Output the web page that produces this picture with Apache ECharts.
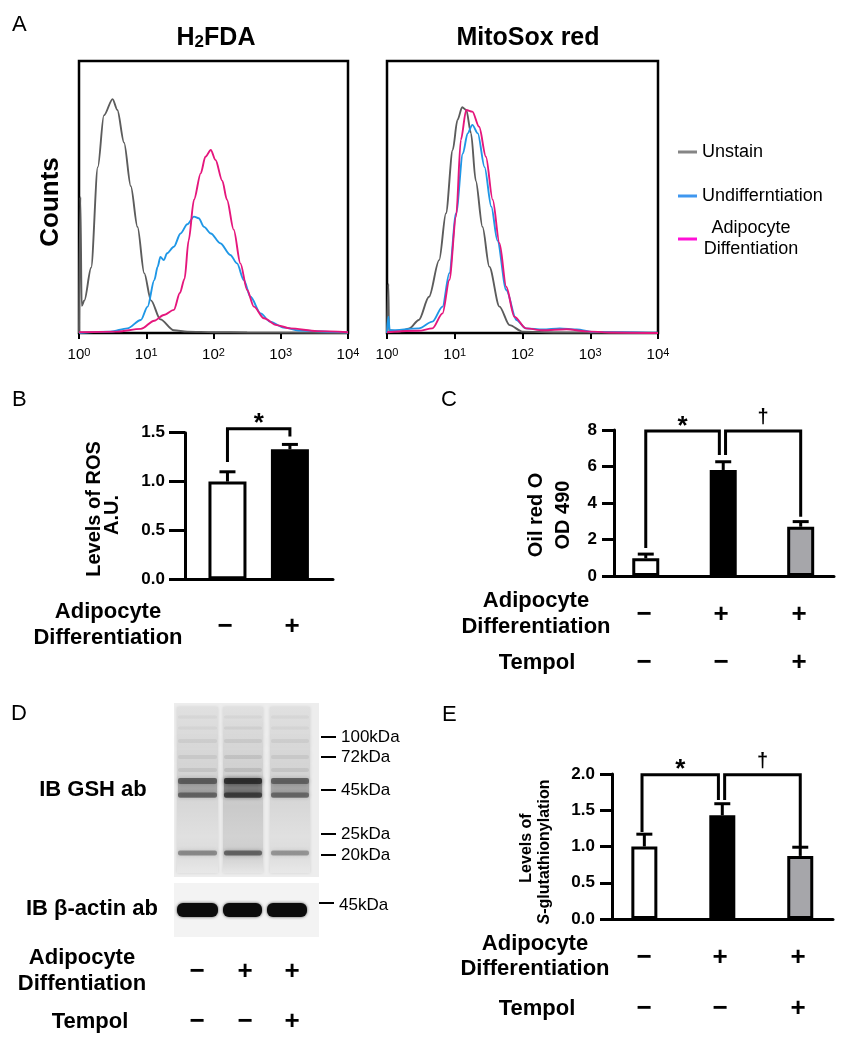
<!DOCTYPE html>
<html><head><meta charset="utf-8">
<script src="https://cdn.jsdelivr.net/npm/echarts@6/dist/echarts.min.js"></script>
<style>html,body{margin:0;padding:0;background:#fff}#chart{width:848px;height:1050px}</style>
</head><body><div id="chart"></div>
<script>
// ================= DATA =================
// Panel A – flow cytometry histograms: [log10 fluorescence, relative counts]
const histExponents = [0, 1, 2, 3, 4];
const seriesNames = ['Unstain', 'Undifferntiation', 'Adipocyte Diffentiation'];
const h2fdaUnstain = [[0,0],[0.02,50],[0.04,10],[0.08,12],[0.18,24],[0.28,61],[0.37,80],[0.5,86],[0.57,82],[0.67,70],[0.77,54],[0.87,39],[0.97,22],[1.07,12],[1.21,5],[1.41,1],[1.61,0.5],[2.0,0.3],[2.5,0.2],[4,0]];
const h2fdaUndiff = [[0,0],[0.47,0.5],[0.72,1.7],[0.92,4.8],[1.02,9.7],[1.12,19.5],[1.17,24.4],[1.21,28],[1.26,26.8],[1.31,29.3],[1.41,31.7],[1.51,36.6],[1.61,40],[1.71,42.8],[1.78,42.2],[1.86,39],[1.96,36.6],[2.10,33],[2.25,28.7],[2.35,25.6],[2.45,19.5],[2.55,13.3],[2.70,7.2],[2.84,4.2],[3.04,2.0],[3.29,0.9],[3.78,0.4],[4,0.2]];
const h2fdaAdipo = [[0,0.3],[0.57,0.5],[0.92,1.5],[1.12,4.5],[1.26,6.6],[1.41,8.5],[1.5,14.7],[1.57,20],[1.63,34],[1.71,49],[1.81,58.7],[1.88,64.8],[1.96,67.3],[2.03,63.6],[2.13,56],[2.20,49],[2.30,38],[2.40,25.6],[2.50,15.8],[2.60,9.7],[2.75,5.4],[2.94,2.9],[3.14,1.7],[3.54,0.7],[4,0.3]];
const mitoUnstain = [[0,0],[0.02,18],[0.03,1],[0.18,0.5],[0.33,1.7],[0.47,4.8],[0.62,13.3],[0.77,26.8],[0.87,44],[0.97,67.3],[1.04,78.3],[1.11,83],[1.17,82],[1.24,73.4],[1.31,56],[1.41,39],[1.51,24.4],[1.66,9.7],[1.81,2.9],[2.0,0.5],[2.5,0.2],[4,0]];
const mitoUndiff = [[0,0],[0.02,6],[0.04,1],[0.47,1.7],[0.67,4.2],[0.82,9.7],[0.92,22],[1.02,44],[1.12,66],[1.19,73.4],[1.26,76.5],[1.34,73.4],[1.44,61],[1.54,46.4],[1.63,34],[1.76,15.8],[1.91,4.8],[2.05,1.7],[2.30,1.3],[2.55,1.7],[2.80,1.3],[3.04,0.4],[4,0.1]];
const mitoAdipo = [[0,0.3],[0.47,0.8],[0.67,1.7],[0.82,7.2],[0.92,19.5],[1.02,42.8],[1.09,71],[1.17,82],[1.26,81.4],[1.36,75.8],[1.46,64.8],[1.56,49],[1.66,33],[1.76,17],[1.88,6],[2.05,1.7],[2.30,1.0],[2.65,1.4],[2.94,0.6],[3.29,0.2],[4,0]];

// Panel B – ROS levels (A.U.)
const rosMean = [1.0, 1.33];
const rosSem = [0.10, 0.05];
// Panel C – Oil red O OD 490
const oilMean = [0.97, 5.81, 2.70];
const oilSem = [0.23, 0.45, 0.28];
// Panel E – S-glutathionylation
const sgMean = [1.0, 1.43, 0.87];
const sgSem = [0.17, 0.16, 0.12];

// condition rows
const adipoB = ['−', '+'];
const adipo3 = ['−', '+', '+'];
const tempol3 = ['−', '−', '+'];

// significance brackets: [xLeft, yLeftEnd, xRight, yRightEnd, yTop]
const sigB = [[1, 1.20, 2, 1.46, 1.54]];
const sigBSym = ['*'];
const sigC = [[1, 1.53, 1.95, 6.63, 7.95], [2.03, 6.63, 3, 3.25, 7.95]];
const sigCSym = ['*', '†'];
const sigE = [[0.97, 1.20, 1.95, 1.64, 1.99], [2.03, 1.64, 3, 1.0, 1.99]];
const sigESym = ['*', '†'];

// Panel D – molecular weight markers
const gshMarkers = ['100kDa', '72kDa', '45kDa', '25kDa', '20kDa'];
const actinMarkers = ['45kDa'];

// ================= CHART =================
const FF = '"Liberation Sans", Arial, Helvetica, sans-serif';
const chart = echarts.init(document.getElementById('chart'), null, {renderer: 'canvas'});

const histColors = ['#5c5c5c', '#1f97e6', '#e5167c'];
const legendColors = ['#858585', '#3f97ef', '#ff10d6'];
const barFill = ['#ffffff', '#000000', '#a6a6aa'];

function histX(gi) {
  return {
    gridIndex: gi, type: 'value', min: 0, max: 4, interval: 1,
    axisLine: {show: false},
    axisTick: {show: true, length: 6, lineStyle: {color: '#000', width: 2}},
    splitLine: {show: false},
    axisLabel: {
      margin: 14, color: '#000',
      formatter: v => '{b|10}{s|' + histExponents[v] + '}',
      rich: {
        b: {fontSize: 15, fontFamily: FF, color: '#000'},
        s: {fontSize: 11, fontFamily: FF, color: '#000', verticalAlign: 'top'}
      }
    }
  };
}
function barX(gi, min, max) {
  return {
    gridIndex: gi, type: 'value', min, max,
    axisLine: {show: true, onZero: true, lineStyle: {color: '#000', width: 3}},
    axisTick: {show: false}, axisLabel: {show: false}, splitLine: {show: false}
  };
}
function barY(gi, max, interval, tickLen, margin, fmt) {
  return {
    gridIndex: gi, type: 'value', min: 0, max, interval,
    axisLine: {show: true, lineStyle: {color: '#000', width: 3}},
    axisTick: {show: true, length: tickLen, lineStyle: {color: '#000', width: 3}},
    splitLine: {show: false},
    axisLabel: {margin, color: '#000', fontSize: 17, fontWeight: 'bold', fontFamily: FF, formatter: fmt}
  };
}
function histSeries(gi, dataArr) {
  return dataArr.map((d, i) => ({
    type: 'line', name: seriesNames[i], xAxisIndex: gi, yAxisIndex: gi,
    data: d, showSymbol: false, smooth: 0.3, smoothMonotone: 'x',
    lineStyle: {color: histColors[i], width: 1.9}, itemStyle: {color: histColors[i]},
    z: 2 + i, silent: true
  }));
}
function barSeries(gi, means, width) {
  return {
    type: 'bar', xAxisIndex: gi, yAxisIndex: gi, barWidth: width,
    data: means.map((m, i) => ({value: [i + 1, m], itemStyle: {color: barFill[i]}})),
    itemStyle: {borderColor: '#000', borderWidth: 3}, z: 2, silent: true
  };
}
function errSeries(gi, means, sems) {
  return {
    type: 'custom', xAxisIndex: gi, yAxisIndex: gi, z: 4, silent: true, clip: false,
    data: means.map((m, i) => [i + 1, m, m + sems[i]]),
    renderItem: (params, api) => {
      const b = api.coord([api.value(0), api.value(1)]);
      const t = api.coord([api.value(0), api.value(2)]);
      return {type: 'group', children: [
        {type: 'line', shape: {x1: b[0], y1: b[1], x2: t[0], y2: t[1]}, style: {stroke: '#000', lineWidth: 3}},
        {type: 'line', shape: {x1: t[0] - 8, y1: t[1], x2: t[0] + 8, y2: t[1]}, style: {stroke: '#000', lineWidth: 3}}
      ]};
    }
  };
}
function sigSeries(gi, data, syms, dy) {
  return {
    type: 'custom', xAxisIndex: gi, yAxisIndex: gi, z: 5, silent: true, clip: false,
    data: data,
    renderItem: (params, api) => {
      const p1 = api.coord([api.value(0), api.value(1)]);
      const p2 = api.coord([api.value(0), api.value(4)]);
      const p3 = api.coord([api.value(2), api.value(4)]);
      const p4 = api.coord([api.value(2), api.value(3)]);
      const s = syms[params.dataIndex];
      const star = s === '*';
      return {type: 'group', children: [
        {type: 'polyline', shape: {points: [p1, p2, p3, p4]}, style: {stroke: '#000', lineWidth: 3, fill: null, lineJoin: 'miter'}},
        {type: 'text', x: (p2[0] + p3[0]) / 2, y: p2[1] + (star ? dy[0] : dy[1]),
         style: {text: s, font: 'bold ' + (star ? 26 : 20) + 'px ' + FF, fill: '#000', align: 'center', verticalAlign: 'middle'}}
      ]};
    }
  };
}

// ---------- graphic helpers ----------
function T(text, x, y, size, weight, extra) {
  return Object.assign({type: 'text', x, y, silent: true,
    style: {text, font: (weight || 'bold') + ' ' + size + 'px ' + FF, fill: '#000', align: 'center', verticalAlign: 'middle'}}, extra || {});
}
function TL(text, x, y, size, weight) {
  return {type: 'text', x, y, silent: true,
    style: {text, font: weight + ' ' + size + 'px ' + FF, fill: '#000', align: 'left', verticalAlign: 'middle'}};
}
function signs(arr, xs, y) {
  return arr.map((s, i) => T(s, xs[i], y, 26, 'bold'));
}

function blotElements() {
  const els = [];
  // upper membrane (GSH)
  els.push({type: 'rect', shape: {x: 174, y: 703, width: 145, height: 174}, style: {fill: '#ededed'}});
  const lanes = [[177, 41], [223, 40], [270, 40]];
  lanes.forEach((l, i) => {
    const stops = i === 1
      ? [{offset: 0, color: '#e0e0e0'}, {offset: 0.25, color: '#d6d6d6'}, {offset: 0.45, color: '#cfcfcf'}, {offset: 0.6, color: '#cacaca'}, {offset: 0.78, color: '#d2d2d2'}, {offset: 0.88, color: '#cdcdcd'}, {offset: 1, color: '#e6e6e6'}]
      : [{offset: 0, color: '#e0e0e0'}, {offset: 0.25, color: '#d8d8d8'}, {offset: 0.45, color: '#d3d3d3'}, {offset: 0.6, color: '#d8d8d8'}, {offset: 0.78, color: '#e0e0e0'}, {offset: 0.88, color: '#dcdcdc'}, {offset: 1, color: '#e8e8e8'}];
    els.push({type: 'rect', shape: {x: l[0], y: 707, width: l[1], height: 166},
      style: {fill: {type: 'linear', x: 0, y: 0, x2: 0, y2: 1, colorStops: stops}, shadowBlur: 3, shadowColor: 'rgba(0,0,0,0.12)'}});
  });
  const bands = [
    [717, 3, [.04, .04, .04]], [728, 3, [.04, .05, .04]], [741, 4, [.06, .07, .06]],
    [757, 4, [.07, .09, .07]], [770, 4, [.08, .1, .08]],
    [788, 20, [.22, .38, .22]],
    [781, 6, [.45, .7, .42]], [795, 5, [.42, .58, .4]],
    [853, 5, [.38, .52, .33]]
  ];
  bands.forEach(b => {
    lanes.forEach((l, i) => {
      const a = b[2][i];
      els.push({type: 'rect', shape: {x: l[0] + 1, y: b[0] - b[1] / 2, width: l[1] - 2, height: b[1], r: 2},
        style: {fill: 'rgba(25,25,25,' + a + ')', shadowBlur: 4, shadowColor: 'rgba(25,25,25,' + a + ')'}});
    });
  });
  // lower membrane (beta-actin)
  els.push({type: 'rect', shape: {x: 174, y: 883, width: 145, height: 54}, style: {fill: '#f3f3f3'}});
  [[177, 41], [223, 39], [267, 40]].forEach(l => {
    els.push({type: 'rect', shape: {x: l[0], y: 903, width: l[1], height: 14, r: 6},
      style: {fill: '#0c0c0c', shadowBlur: 3, shadowColor: 'rgba(0,0,0,0.7)'}});
  });
  // markers
  const my = [737, 757, 790, 834, 855];
  gshMarkers.forEach((m, i) => {
    els.push({type: 'line', shape: {x1: 321, y1: my[i], x2: 336, y2: my[i]}, style: {stroke: '#000', lineWidth: 2}});
    els.push(TL(m, 341, my[i], 17, 'normal'));
  });
  actinMarkers.forEach(m => {
    els.push({type: 'line', shape: {x1: 319, y1: 903, x2: 334, y2: 903}, style: {stroke: '#000', lineWidth: 2}});
    els.push(TL(m, 339, 905, 17, 'normal'));
  });
  return els;
}

const graphics = [].concat(
  [
    TL('A', 12, 25, 22, 'normal'),
    TL('B', 12, 400, 22, 'normal'),
    TL('C', 441, 400, 22, 'normal'),
    TL('D', 11, 714, 22, 'normal'),
    TL('E', 442, 715, 22, 'normal'),
    // Panel A titles
    {type: 'text', x: 216, y: 38, silent: true, style: {
      text: '{a|H}{b|2}{a|FDA}', align: 'center', verticalAlign: 'middle',
      rich: {a: {font: 'bold 25px ' + FF, fill: '#000'}, b: {font: 'bold 17px ' + FF, fill: '#000', verticalAlign: 'bottom'}}}},
    T('MitoSox red', 528, 38, 25, 'bold'),
    T('Counts', 51, 202, 26, 'bold', {rotation: Math.PI / 2}),
    // Panel B labels
    T('Levels of ROS', 94, 509, 20, 'bold', {rotation: Math.PI / 2}),
    T('A.U.', 112, 515, 20, 'bold', {rotation: Math.PI / 2}),
    T('Adipocyte', 108, 612, 22, 'bold'),
    T('Differentiation', 108, 638, 22, 'bold'),
    // Panel C labels
    T('Oil red O', 536, 515, 20, 'bold', {rotation: Math.PI / 2}),
    T('OD 490', 563, 515, 20, 'bold', {rotation: Math.PI / 2}),
    T('Adipocyte', 536, 601, 22, 'bold'),
    T('Differentiation', 536, 627, 22, 'bold'),
    T('Tempol', 537, 663, 22, 'bold'),
    // Panel D labels
    T('IB GSH ab', 93, 790, 22, 'bold'),
    T('IB β-actin ab', 92, 909, 22, 'bold'),
    T('Adipocyte', 82, 958, 22, 'bold'),
    T('Diffentiation', 82, 984, 22, 'bold'),
    T('Tempol', 90, 1022, 22, 'bold'),
    // Panel E labels
    T('Levels of', 527, 848, 16, 'bold', {rotation: Math.PI / 2}),
    {type: 'text', x: 545, y: 852, rotation: Math.PI / 2, silent: true, style: {
      text: '{i|S}{n|-glutathionylation}', align: 'center', verticalAlign: 'middle',
      rich: {i: {font: 'italic bold 16px ' + FF, fill: '#000'}, n: {font: 'bold 16px ' + FF, fill: '#000'}}}},
    T('Adipocyte', 535, 944, 22, 'bold'),
    T('Differentiation', 535, 969, 22, 'bold'),
    T('Tempol', 537, 1009, 22, 'bold')
  ],
  signs(adipoB, [225, 292], 627),
  signs(adipo3, [644, 721, 799], 615),
  signs(tempol3, [644, 721, 799], 663),
  signs(adipo3, [197, 245, 292], 972),
  signs(tempol3, [197, 245, 292], 1022),
  signs(adipo3, [644, 720, 798], 958),
  signs(tempol3, [644, 720, 798], 1009),
  blotElements()
);

const option = {
  backgroundColor: '#ffffff',
  animation: false,
  textStyle: {fontFamily: FF},
  grid: [
    {left: 79, top: 61, width: 269, height: 272, show: true, borderColor: '#000', borderWidth: 2.5, backgroundColor: 'transparent'},
    {left: 387, top: 61, width: 271, height: 272, show: true, borderColor: '#000', borderWidth: 2.5, backgroundColor: 'transparent'},
    {left: 185, top: 432.7, width: 148, height: 146.6},
    {left: 614, top: 430, width: 220, height: 146},
    {left: 612, top: 774, width: 221, height: 145}
  ],
  xAxis: [histX(0), histX(1), barX(2, 0.32, 2.69), barX(3, 0.59, 3.43), barX(4, 0.585, 3.42)],
  yAxis: [
    {gridIndex: 0, type: 'value', min: 0, max: 100, show: false},
    {gridIndex: 1, type: 'value', min: 0, max: 100, show: false},
    barY(2, 1.5, 0.5, 16, 20, v => v.toFixed(1)),
    barY(3, 8, 2, 12, 17, v => String(v)),
    barY(4, 2, 0.5, 12, 17, v => v.toFixed(1))
  ],
  legend: [
    {orient: 'vertical', left: 673, top: 136.5, itemWidth: 19, itemHeight: 3, itemGap: 23, icon: 'rect', selectedMode: false,
     data: [{name: seriesNames[0], itemStyle: {color: legendColors[0]}}, {name: seriesNames[1], itemStyle: {color: legendColors[1]}}],
     textStyle: {fontSize: 18, fontFamily: FF, color: '#000', lineHeight: 21}},
    {orient: 'vertical', left: 673, top: 213, itemWidth: 19, itemHeight: 3, icon: 'rect', selectedMode: false,
     data: [{name: seriesNames[2], itemStyle: {color: legendColors[2]}}],
     formatter: () => '{c|Adipocyte}\n{c|Diffentiation}',
     textStyle: {fontSize: 18, fontFamily: FF, color: '#000', lineHeight: 21,
       rich: {c: {width: 98, align: 'center', fontSize: 18, fontFamily: FF, color: '#000', lineHeight: 21}}}}
  ],
  series: [].concat(
    histSeries(0, [h2fdaUnstain, h2fdaUndiff, h2fdaAdipo]),
    histSeries(1, [mitoUnstain, mitoUndiff, mitoAdipo]),
    [barSeries(2, rosMean, 38), errSeries(2, rosMean, rosSem), sigSeries(2, sigB, sigBSym, [-5, -13])],
    [barSeries(3, oilMean, 27), errSeries(3, oilMean, oilSem), sigSeries(3, sigC, sigCSym, [-4, -13])],
    [barSeries(4, sgMean, 26), errSeries(4, sgMean, sgSem), sigSeries(4, sigE, sigESym, [-5, -13])]
  ),
  graphic: {elements: graphics}
};
chart.setOption(option);
</script>
</body></html>
